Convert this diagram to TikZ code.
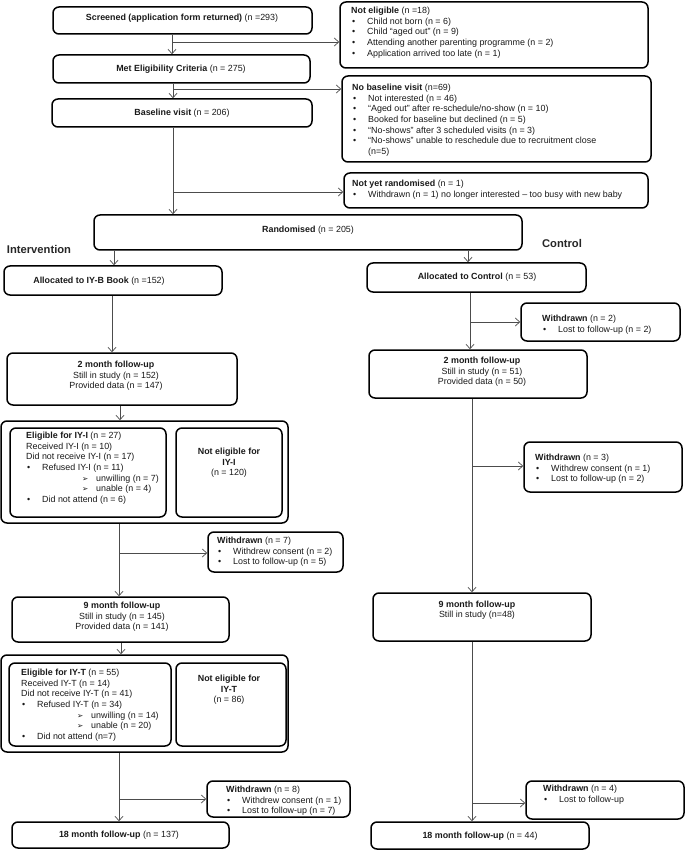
\documentclass[tikz,border=0pt]{standalone}
\usepackage{fontspec}
\setmainfont{Liberation Sans}
\newfontfamily\dejavu{DejaVu Sans}
\usetikzlibrary{arrows.meta}
\tikzset{
  bx/.style={draw=black, line width=1.5pt, rounded corners=6pt, inner sep=0pt},
  txt/.style={inner sep=0pt, align=left, font=\fontsize{8.9}{10.6}\selectfont, text=black!90},
  ctxt/.style={txt, align=center},
  arr/.style={draw=black!70, line width=0.7pt, -{Straight Barb[length=4.5pt,width=8pt,line width=0.7pt]}},
  lab/.style={inner sep=0pt, font=\fontsize{11.2}{13}\selectfont\bfseries, text=black!85},
}
\newcommand\bl{\hspace*{1pt}\makebox[15pt][l]{•}}
\newcommand\sbl{\hspace*{56pt}\makebox[14pt][l]{\dejavu\fontsize{7.5}{7.5}\selectfont ➢}}
\newcommand\bx[5]{\node[bx,minimum width={#4-#2},minimum height={#5-#3}] (#1) at ({(#2+#4)/2},{(#3+#5)/2}) {};}
\begin{document}
\begin{tikzpicture}[x=1pt,y=-1pt]
\useasboundingbox (0,0) rectangle (685,858);
% ---- top section
\bx{scr}{53}{7}{312}{34}
\node[ctxt] (scrt) at (182,18) {\textbf{Screened (application form returned)} (n =293)};
\bx{met}{53}{55}{310}{83}
\node[ctxt] (mett) at (181,69) {\textbf{Met Eligibility Criteria} (n = 275)};
\bx{base}{52}{99}{312}{127}
\node[ctxt] (baset) at (182,113) {\textbf{Baseline visit} (n = 206)};
\bx{notelig}{340}{2}{648}{68}
\node[txt,anchor=north west] (noteligt) at (351,7) {\textbf{Not eligible} (n =18)\\
\bl Child not born (n = 6)\\
\bl Child “aged out” (n = 9)\\
\bl Attending another parenting programme (n = 2)\\
\bl Application arrived too late (n = 1)};
\bx{nobase}{342}{76}{651}{162}
\node[txt,anchor=north west] (nobaset) at (352,84) {\textbf{No baseline visit} (n=69)\\
\bl Not interested (n = 46)\\
\bl “Aged out” after re-schedule/no-show (n = 10)\\
\bl Booked for baseline but declined (n = 5)\\
\bl “No-shows” after 3 scheduled visits (n = 3)\\
\bl “No-shows” unable to reschedule due to recruitment close\\
\hspace*{16pt}(n=5)};
\bx{notrand}{344}{173}{648}{208}
\node[txt,anchor=north west] (notrandt) at (352,180) {\textbf{Not yet randomised} (n = 1)\\
\bl Withdrawn (n = 1) no longer interested – too busy with new baby};
\bx{rand}{94}{215}{522}{250}
\node[ctxt] (randt) at (308,230) {\textbf{Randomised} (n = 205)};
\node[lab] (intl) at (39,249) {Intervention};
\node[lab] (ctrll) at (562,243) {Control};
% ---- intervention arm
\bx{allocI}{4}{266}{222}{295}
\node[ctxt] (allocIt) at (99,281) {\textbf{Allocated to IY-B Book} (n =152)};
\bx{m2I}{7}{353}{237}{405}
\node[ctxt] (m2It) at (116,376) {\textbf{2 month follow-up}\\Still in study (n = 152)\\Provided data (n = 147)};
\bx{grpI}{1}{421}{288}{523}
\bx{eligI}{10}{428}{166}{517}
\bx{neligI}{176}{428}{282}{517}
\node[txt,anchor=north west] (eligIt) at (26,432) {\textbf{Eligible for IY-I} (n = 27)\\
Received IY-I (n = 10)\\
Did not receive IY-I (n = 17)\\
\bl Refused IY-I (n = 11)\\
\sbl unwilling (n = 7)\\
\sbl unable (n = 4)\\
\bl Did not attend (n = 6)};
\node[ctxt] (neligIt) at (229,463) {\textbf{Not eligible for}\\\textbf{IY-I}\\(n = 120)};
\bx{wdI7}{208}{532}{343}{572}
\node[txt,anchor=north west] (wdI7t) at (217,537) {\textbf{Withdrawn} (n = 7)\\
\bl Withdrew consent (n = 2)\\
\bl Lost to follow-up (n = 5)};
\bx{m9I}{12}{597}{229}{642}
\node[ctxt] (m9It) at (122,617) {\textbf{9 month follow-up}\\Still in study (n = 145)\\Provided data (n = 141)};
\bx{grpT}{1}{655}{288}{752}
\bx{eligT}{9}{663}{171}{746}
\bx{neligT}{176}{663}{286}{746}
\node[txt,anchor=north west] (eligTt) at (21,669) {\textbf{Eligible for IY-T} (n = 55)\\
Received IY-T (n = 14)\\
Did not receive IY-T (n = 41)\\
\bl Refused IY-T (n = 34)\\
\sbl unwilling (n = 14)\\
\sbl unable (n = 20)\\
\bl Did not attend (n=7)};
\node[ctxt] (neligTt) at (229,690) {\textbf{Not eligible for}\\\textbf{IY-T}\\(n = 86)};
\bx{wdI8}{207}{781}{350}{817}
\node[txt,anchor=north west] (wdI8t) at (226,786) {\textbf{Withdrawn} (n = 8)\\
\bl Withdrew consent (n = 1)\\
\bl Lost to follow-up (n = 7)};
\bx{m18I}{12}{822}{229}{848}
\node[ctxt] (m18It) at (119,835) {\textbf{18 month follow-up} (n = 137)};
% ---- control arm
\bx{allocC}{367}{263}{586}{292}
\node[ctxt] (allocCt) at (477,277) {\textbf{Allocated to Control} (n = 53)};
\bx{wdC2}{521}{303}{680}{341}
\node[txt,anchor=north west] (wdC2t) at (542,315) {\textbf{Withdrawn} (n = 2)\\
\bl Lost to follow-up (n = 2)};
\bx{m2C}{369}{350}{587}{398}
\node[ctxt] (m2Ct) at (482,372) {\textbf{2 month follow-up}\\Still in study (n = 51)\\Provided data (n = 50)};
\bx{wdC3}{524}{442}{682}{492}
\node[txt,anchor=north west] (wdC3t) at (535,454) {\textbf{Withdrawn} (n = 3)\\
\bl Withdrew consent (n = 1)\\
\bl Lost to follow-up (n = 2)};
\bx{m9C}{373}{593}{591}{641}
\node[ctxt] (m9Ct) at (477,610) {\textbf{9 month follow-up}\\Still in study (n=48)};
\bx{wdC4}{526}{781}{684}{819}
\node[txt,anchor=north west] (wdC4t) at (543,785) {\textbf{Withdrawn} (n = 4)\\
\bl Lost to follow-up};
\bx{m18C}{371}{822}{589}{849}
\node[ctxt] (m18Ct) at (480,836) {\textbf{18 month follow-up} (n = 44)};
% ---- connectors
\coordinate (b1) at (172,42);
\coordinate (b2) at (173,89);
\coordinate (b3) at (173,192);
\draw[arr] (b1 |- scr.south) -- (b1 |- met.north);
\draw[arr] (b1) -- (b1 -| notelig.west);
\draw[arr] (b2 |- met.south) -- (b2 |- base.north);
\draw[arr] (b2) -- (b2 -| nobase.west);
\draw[arr] (b3 |- base.south) -- (b3 |- rand.north);
\draw[arr] (b3) -- (b3 -| notrand.west);
\coordinate (r1) at (114,0);
\coordinate (r2) at (468,0);
\draw[arr] (r1 |- rand.south) -- (r1 |- allocI.north);
\draw[arr] (r2 |- rand.south) -- (r2 |- allocC.north);
\coordinate (i1) at (112,0);
\draw[arr] (i1 |- allocI.south) -- (i1 |- m2I.north);
\coordinate (i2) at (120,0);
\draw[arr] (i2 |- m2I.south) -- (i2 |- grpI.north);
\coordinate (i3) at (119,553);
\draw[arr] (i3 |- grpI.south) -- (i3 |- m9I.north);
\draw[arr] (i3) -- (i3 -| wdI7.west);
\coordinate (i4) at (121,0);
\draw[arr] (i4 |- m9I.south) -- (i4 |- grpT.north);
\coordinate (i5) at (119,799);
\draw[arr] (i5 |- grpT.south) -- (i5 |- m18I.north);
\draw[arr] (i5) -- (i5 -| wdI8.west);
\coordinate (c1) at (470,322);
\draw[arr] (c1 |- allocC.south) -- (c1 |- m2C.north);
\draw[arr] (c1) -- (c1 -| wdC2.west);
\coordinate (c2) at (472,466);
\draw[arr] (c2 |- m2C.south) -- (c2 |- m9C.north);
\draw[arr] (c2) -- (c2 -| wdC3.west);
\coordinate (c3) at (472,803);
\draw[arr] (c3 |- m9C.south) -- (c3 |- m18C.north);
\draw[arr] (c3) -- (c3 -| wdC4.west);
\end{tikzpicture}
\end{document}
